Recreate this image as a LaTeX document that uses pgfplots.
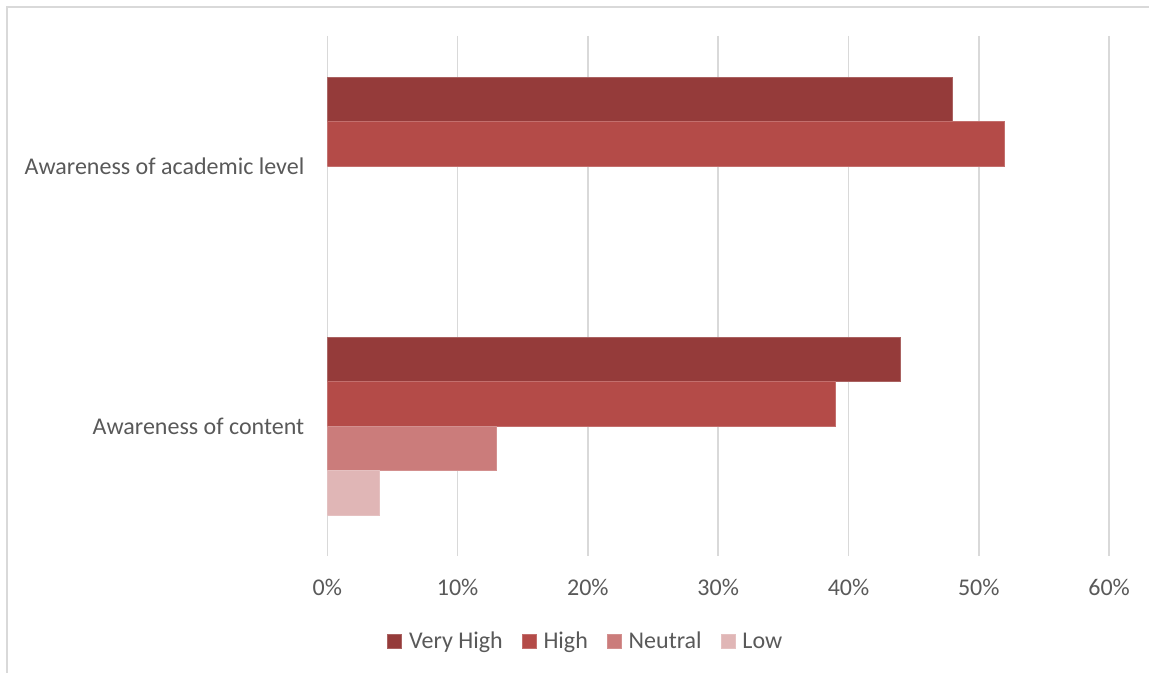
\documentclass[border=0pt]{standalone}
\usepackage{pgfplots}
\pgfplotsset{compat=1.18}
\usepackage{fontspec}
\setmainfont{Carlito}
\definecolor{vh}{RGB}{149,59,58}
\definecolor{hi}{RGB}{180,75,72}
\definecolor{ne}{RGB}{203,124,123}
\definecolor{lo}{RGB}{224,182,182}
\definecolor{gridc}{RGB}{217,217,217}
\definecolor{txt}{RGB}{89,89,89}
\begin{document}
\begin{tikzpicture}
\path[use as bounding box] (0,0) rectangle (574.5pt,336.5pt);
\draw[gridc, line width=1pt] (3.5pt,-2pt) -- (3.5pt,333pt) -- (580pt,333pt);
\begin{axis}[
  at={(163.65pt,58.5pt)}, anchor=south west,
  scale only axis, width=390.9pt, height=260pt,
  xbar=0pt, bar width=0.171,
  xmin=0, xmax=60, ymin=-0.5, ymax=1.5,
  y dir=reverse,
  ytick={0,1},
  yticklabels={Awareness of academic level, Awareness of content},
  xtick={0,10,20,30,40,50,60},
  xticklabel={\pgfmathprintnumber{\tick}\%},
  /pgf/number format/assume math mode=true,
  axis line style={draw=none},
  major tick length=0pt,
  xmajorgrids, major grid style={gridc, line width=0.8pt},
  ymajorgrids=false,
  tick label style={font=\fontsize{12}{14.4}\selectfont, text=txt},
  xticklabel style={yshift=-8pt},
  yticklabel style={xshift=-8pt},
  legend columns=4,
  legend style={at={(0.332,-0.165)}, anchor=center, draw=none, fill=none,
    font=\fontsize{12}{14.4}\selectfont, text=txt,
    /tikz/every even column/.append style={column sep=7.5pt}},
  legend image code/.code={\fill[#1] (0pt,-3.5pt) rectangle (7pt,3.5pt); \path (8.5pt,0pt);},
]
\addplot[fill=vh, draw=vh!80!white, line width=0.4pt] coordinates {(48,0) (44,1)};
\addplot[fill=hi, draw=hi!80!white, line width=0.4pt] coordinates {(52,0) (39,1)};
\addplot[fill=ne, draw=ne!85!white, line width=0.4pt] coordinates {(13,1)};
\addplot[fill=lo, draw=lo!85!white, line width=0.4pt] coordinates {(4,1)};
\legend{Very High, High, Neutral, Low}
\end{axis}
\end{tikzpicture}
\end{document}
